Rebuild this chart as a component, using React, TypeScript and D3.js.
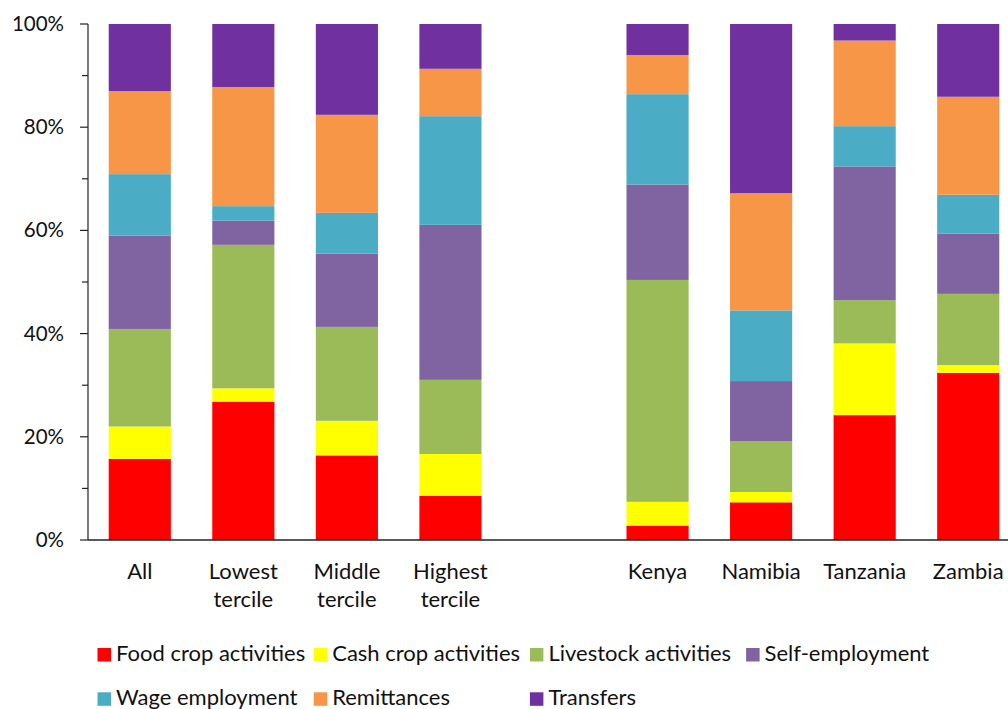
import React from "react";
import * as d3 from "d3";

const categories = ["All", "Lowest\ntercile", "Middle\ntercile", "Highest\ntercile", "gap", "Kenya", "Namibia", "Tanzania", "Zambia"];
const seriesNames = ["Food crop activities", "Cash crop activities", "Livestock activities", "Self-employment", "Wage employment", "Remittances", "Transfers"];
const seriesColors = ["#FF0000", "#FFFF00", "#9BBB59", "#8064A2", "#4BACC6", "#F79646", "#7030A0"];

const foodCrop = [15.7, 26.8, 16.4, 8.6, 0, 2.8, 7.3, 24.2, 32.4];
const cashCrop = [6.3, 2.6, 6.7, 8.1, 0, 4.6, 2.0, 13.9, 1.5];
const livestock = [18.9, 27.8, 18.2, 14.4, 0, 43.0, 9.8, 8.4, 13.8];
const selfEmployment = [18.1, 4.7, 14.2, 30.1, 0, 18.5, 11.7, 25.9, 11.7];
const wageEmployment = [11.9, 2.8, 7.9, 21.1, 0, 17.5, 13.7, 7.8, 7.5];
const remittances = [16.1, 23.1, 19.0, 9.2, 0, 7.6, 22.7, 16.6, 19.0];
const transfers = [13.0, 12.2, 17.6, 8.7, 0, 6.0, 32.8, 3.2, 14.1];

const yTicks = [0, 20, 40, 60, 80, 100];
const yMinorTicks = [10, 30, 50, 70, 90];

const seriesValues = [foodCrop, cashCrop, livestock, selfEmployment, wageEmployment, remittances, transfers];

const W = 1008;
const H = 709;
const FONT = "Lato, 'Open Sans', sans-serif";

export default function App() {
  const x = d3.scaleBand<string>().domain(categories).range([88, 1020]).paddingInner(0.4).paddingOuter(0.2);
  const y = d3.scaleLinear().domain([0, 100]).range([540, 24]);

  const rows = categories.map((c, i) => {
    const r: any = { cat: c };
    seriesNames.forEach((s, j) => (r[s] = seriesValues[j][i]));
    return r;
  });
  const stacked = d3.stack<any>().keys(seriesNames)(rows);

  return (
    <svg width={W} height={H} style={{ position: "absolute", left: 0, top: 0, background: "#fff" }} fontFamily={FONT}>
      {stacked.map((layer, j) => (
        <g key={layer.key} fill={seriesColors[j]}>
          {layer.map((d, i) => {
            const total = d3.sum(seriesValues, (v) => v[i]);
            if (total === 0 || d[1] - d[0] <= 0) return null;
            const y0 = y((d[0] / total) * 100);
            const y1 = y((d[1] / total) * 100);
            return <rect key={i} x={x(categories[i])} width={x.bandwidth()} y={y1} height={y0 - y1} />;
          })}
        </g>
      ))}
      {/* y axis */}
      <line x1={88} x2={88} y1={y(100)} y2={y(0)} stroke="#222" strokeWidth={1.2} />
      {yTicks.map((t) => (
        <g key={t}>
          <line x1={80} x2={88} y1={y(t)} y2={y(t)} stroke="#222" strokeWidth={1.2} />
          <text x={64} y={y(t) + 7} textAnchor="end" fontSize={20.5} fill="#111">{`${t}%`}</text>
        </g>
      ))}
      {yMinorTicks.map((t) => (
        <line key={t} x1={82} x2={88} y1={y(t)} y2={y(t)} stroke="#222" strokeWidth={1.2} />
      ))}
      {/* x axis */}
      <line x1={88} x2={1020} y1={y(0)} y2={y(0)} stroke="#222" strokeWidth={1.5} />
      {categories.map((c) =>
        c === "gap" ? null : (
          <text key={c} x={(x(c) as number) + x.bandwidth() / 2} y={579} textAnchor="middle" fontSize={22} fill="#111">
            {c.split("\n").map((line, k) => (
              <tspan key={k} x={(x(c) as number) + x.bandwidth() / 2} dy={k === 0 ? 0 : 28}>{line}</tspan>
            ))}
          </text>
        )
      )}
      {/* legend */}
      {seriesNames.map((s, i) => {
        const col = i % 4;
        const row = Math.floor(i / 4);
        const lx = 97.5 + col * 216.2;
        const ly = 648 + row * 44.3;
        return (
          <g key={s}>
            <rect x={lx} y={ly} width={13.5} height={13.5} fill={seriesColors[i]} />
            <text x={lx + 18.5} y={ly + 13} fontSize={22} fill="#111">{s}</text>
          </g>
        );
      })}
    </svg>
  );
}
